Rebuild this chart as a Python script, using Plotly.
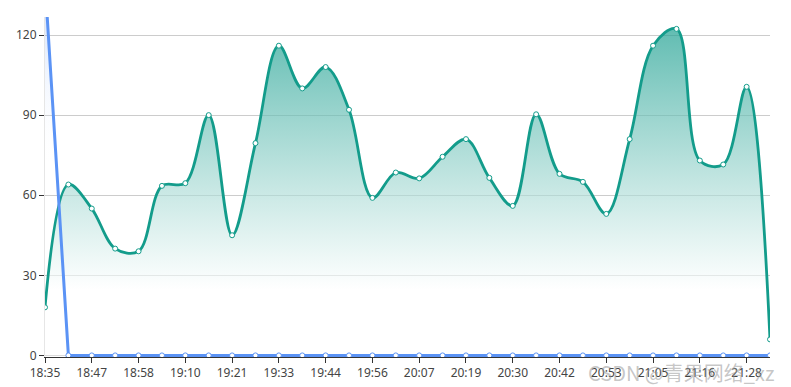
import plotly.graph_objects as go

times = ["18:35", "18:41", "18:47", "18:52", "18:58", "19:04", "19:10", "19:15",
         "19:21", "19:27", "19:33", "19:38", "19:44", "19:50", "19:56", "20:01",
         "20:07", "20:13", "20:19", "20:24", "20:30", "20:36", "20:42", "20:47",
         "20:53", "20:59", "21:05", "21:10", "21:16", "21:22", "21:28", "21:33"]
green_values = [18, 64, 55, 40, 39, 63.5, 64.5, 90, 45, 79.5, 116, 100, 108, 92, 59, 68.5,
                66.3, 74.4, 81, 66.5, 56, 90.3, 68, 65, 53, 81, 116, 122.3, 73, 71.5, 100.6, 6]
blue_values = [140] + [0] * 31
y_ticks = [0, 30, 60, 90, 120]

idx = list(range(len(times)))

fig = go.Figure()
fig.add_trace(go.Scatter(
    x=idx, y=green_values, mode="lines+markers",
    line=dict(color="#139c8b", width=2.8, shape="spline", smoothing=1.0),
    marker=dict(size=5, color="white", line=dict(color="#139c8b", width=1)),
    fill="tozeroy",
    fillgradient=dict(type="vertical", start=0, stop=max(green_values),
                      colorscale=[[0, "rgba(255,255,255,0.6)"],
                                  [0.2, "rgba(255,255,255,0.6)"],
                                  [1, "rgba(30,160,145,0.7)"]]),
    hoverinfo="skip", showlegend=False,
))
fig.add_trace(go.Scatter(
    x=idx, y=blue_values, mode="lines+markers",
    line=dict(color="#5b93f5", width=3),
    marker=dict(size=5, color="white", line=dict(color="#5b93f5", width=1)),
    fill="tozeroy",
    fillgradient=dict(type="vertical", start=0, stop=max(blue_values),
                      colorscale=[[0, "rgba(255,255,255,0)"],
                                  [0.5, "rgba(255,255,255,0)"],
                                  [1, "rgba(91,147,245,0.35)"]]),
    hoverinfo="skip", showlegend=False,
))

fig.update_layout(
    width=791, height=387,
    margin=dict(l=45, r=21, t=17, b=30.4, autoexpand=False),
    paper_bgcolor="white", plot_bgcolor="white",
    font=dict(family="Noto Sans, Open Sans, sans-serif", size=12, color="#444"),
    xaxis=dict(
        range=[0, len(times) - 1], tickmode="array",
        tickvals=idx[::2], ticktext=times[::2], automargin=False,
        showgrid=False, zeroline=False, layer="below traces",
        showline=True, linecolor="#333", linewidth=1,
        ticks="outside", ticklen=5, tickcolor="#333",
        tickfont=dict(size=12, color="#444"),
    ),
    yaxis=dict(
        range=[-0.6, 126.75], tickmode="array", tickvals=y_ticks, automargin=False,
        showgrid=True, gridcolor="#cccccc", gridwidth=1, layer="below traces",
        zeroline=False, showline=True, linecolor="#e6e6e6",
        ticks="outside", ticklen=5, tickcolor="#333",
        tickfont=dict(size=12, color="#444"),
    ),
    annotations=[dict(
        text="CSDN @青果网络_xz", xref="paper", yref="paper",
        x=1.0, y=0, xanchor="right", yanchor="middle", yshift=-15, xshift=6,
        showarrow=False,
        font=dict(family="Noto Sans CJK SC, Noto Sans, sans-serif", size=20,
                  color="rgba(150,150,150,0.55)"),
    )],
)

fig.write_html("out.html", config={"displayModeBar": False},
               post_script="document.body.style.margin='0';")
